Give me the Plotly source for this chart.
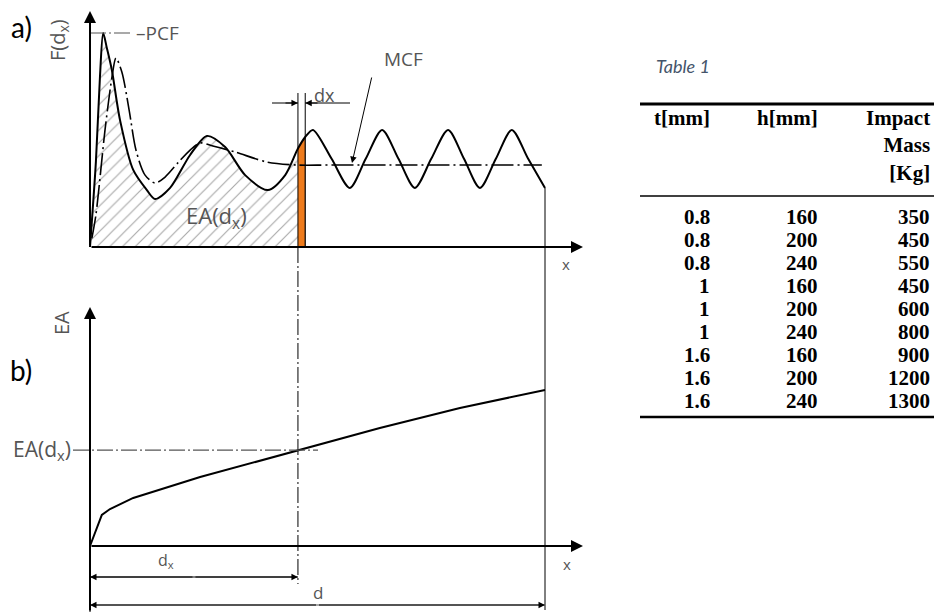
import numpy as np
import plotly.graph_objects as go

# ---------------- data ----------------
# a) crushing force record F(x)
disp = [0, 1.3, 2.2, 2.9, 3.7, 4.8, 6.6, 9.5, 12.5, 14.3,
        17.6, 22.0, 25.7, 29.7, 34.1, 39.1, 42.9, 45.7, 47.3, 49.0,
        53.1, 57.1, 60.6, 64.2, 67.8, 71.4, 75.0, 78.7, 82.2, 85.7,
        89.2, 92.7, 96.3, 100]
force = [0, 40, 80, 100, 93, 82.7, 59.3, 36.0, 26.6, 22.4,
         27.6, 43.0, 51.9, 46.7, 33.6, 26.6, 33.6, 46.0, 51.4, 54.7,
         41.2, 27.6, 41.2, 54.7, 41.2, 27.6, 41.2, 54.7, 41.2, 27.6,
         41.2, 54.7, 41.2, 27.6]

# running mean crushing force (MCF)
disp_mcf = [0.4, 1.3, 3.3, 4.8, 5.7, 7.0, 8.6, 10.1, 12.1, 14.3,
            16.5, 19.3, 22.0, 24.2, 27.0, 31.9, 38.9, 45.5, 52.7, 99.3]
mcf = [4, 15.0, 54.7, 79.0, 88.3, 81.8, 64.0, 45.3, 33.6, 29.9,
       32.7, 39.3, 45.3, 48.6, 47.2, 44.4, 39.7, 38.3, 38.3, 38.3]

# b) absorbed energy EA(x)
disp_ea = [0, 2.6, 4.4, 9.5, 24.2, 45.7, 63.7, 81.3, 100]
energy = [0, 19.9, 23.7, 30.8, 44.2, 61.5, 75.6, 88.5, 100]

# current displacement d_x and the increment dx
d_x = 45.7
d_x_end = 47.3
d_total = 100
pcf = max(force)

# Table 1
tbl_header = ["t[mm]", "h[mm]", "Impact<br>Mass<br>[Kg]"]
thickness = ["0.8", "0.8", "0.8", "1", "1", "1", "1.6", "1.6", "1.6"]
height = ["160", "200", "240", "160", "200", "240", "160", "200", "240"]
mass = ["350", "450", "550", "450", "600", "800", "900", "1200", "1300"]

# ---------------- layout geometry (pixels) ----------------
W, H = 934, 613
X0, SX = 90, 4.55          # x origin and px per displacement unit
YA0, SF = 247, 2.14        # panel a baseline and px per force unit
YB0, SE = 546, 1.56        # panel b baseline and px per energy unit


def to_x(px):
    return (px - X0) / SX


def to_f(py):
    return (YA0 - py) / SF


def to_e(py):
    return (YB0 - py) / SE


INK = "black"
GREY = "#555555"
LBL_FONT = "Open Sans"
CENTER = "16px,3px,2px,3px"
MCF_DASH = "22px,4px,2px,4px"

fig = go.Figure()

# hatched area EA(d_x) under the force curve
hx = [x for x in disp if x <= d_x]
hy = [f for x, f in zip(disp, force) if x <= d_x]
fig.add_trace(go.Scatter(
    x=hx, y=hy, mode="lines", fill="tozeroy",
    line=dict(width=0, shape="spline", smoothing=0.8),
    fillcolor="white",
    fillpattern=dict(shape="/", fgcolor="#555555", bgcolor="white",
                     size=9, solidity=0.13),
    hoverinfo="skip"))

# orange strip dEA over dx
sx = [x for x in disp if d_x <= x <= d_x_end]
sy = [f for x, f in zip(disp, force) if d_x <= x <= d_x_end]
fig.add_trace(go.Scatter(
    x=sx, y=sy, mode="lines", fill="tozeroy", fillcolor="#EE7B1C",
    line=dict(width=0), hoverinfo="skip"))

# MCF curve
fig.add_trace(go.Scatter(
    x=disp_mcf, y=mcf, mode="lines",
    line=dict(color=INK, width=1.6, dash=MCF_DASH, shape="spline", smoothing=0.8),
    hoverinfo="skip"))

# force curve
fig.add_trace(go.Scatter(
    x=disp, y=force, mode="lines",
    line=dict(color=INK, width=2, shape="spline", smoothing=0.8),
    hoverinfo="skip"))

# energy curve
fig.add_trace(go.Scatter(
    x=disp_ea, y=energy, mode="lines", yaxis="y2",
    line=dict(color=INK, width=2), hoverinfo="skip"))

shapes = []
annotations = []

f_dx_end = float(np.interp(d_x_end, disp, force))
f_end = force[-1]
ea_dx = float(np.interp(d_x, disp_ea, energy))


def vline(x, y0, y1, yref="y", width=1, dash=None, color=INK):
    shapes.append(dict(type="line", xref="x", yref=yref, x0=x, x1=x, y0=y0, y1=y1,
                       line=dict(color=color, width=width, dash=dash)))


def hline(y, x0, x1, yref="y", width=1, dash=None, color=INK):
    shapes.append(dict(type="line", xref="x", yref=yref, x0=x0, x1=x1, y0=y, y1=y,
                       line=dict(color=color, width=width, dash=dash)))


def arrow(x, y, ax, ay, yref="y", width=1, size=1.0, head=2):
    annotations.append(dict(x=x, y=y, ax=ax, ay=ay, xref="x", yref=yref,
                            axref="x", ayref=yref, text="", showarrow=True,
                            arrowhead=head, arrowsize=size, arrowwidth=width,
                            arrowcolor=INK, standoff=0, startstandoff=0))


def label(x, y, text, yref="y", size=17, color=GREY, angle=0, anchor="center",
          family=LBL_FONT):
    annotations.append(dict(x=x, y=y, xref="x", yref=yref, text=text, showarrow=False,
                            font=dict(size=size, color=color, family=family),
                            textangle=angle, xanchor=anchor, yanchor="middle"))


# strip borders and dx dimension
vline(d_x, 0, to_f(93))
vline(d_x_end, f_dx_end, to_f(93))
vline(d_x_end, 0, f_dx_end, width=1.2)
hline(to_f(103), to_x(272), d_x, width=1)
hline(to_f(103), d_x_end, to_x(350), width=1)
arrow(d_x, to_f(103), to_x(284), to_f(103), size=1.3)
arrow(d_x_end, to_f(103), to_x(319), to_f(103), size=1.3)
label(to_x(324), to_f(95), "dx", size=18)

# PCF reference line
hline(pcf, 0, to_x(133), width=1.2, dash=CENTER, color=GREY)
label(to_x(134), pcf, "–PCF", size=19, anchor="left")

# MCF leader
arrow(to_x(352), to_f(163), to_x(372), to_f(76), size=1.3)
label(to_x(403), to_f(59), "MCF", size=19)

# end of stroke d
vline(d_total, f_end, to_f(610))

# d_x projection line to panel b
vline(d_x, 0, to_f(584), dash=CENTER)

# axes of panel a
arrow(0, to_f(11), 0, 0, width=2, size=1.2)
arrow(to_x(583), 0, 0, 0, width=2, size=1.2)
label(to_x(566), to_f(264), "x", size=15)
label(to_x(58), to_f(40), "F(d<sub>x</sub>)", size=20, angle=-90)
label(to_x(216), to_f(217), "EA(d<sub>x</sub>)", size=22)
annotations.append(dict(x=to_x(21), y=to_f(27), xref="x", yref="y", text="a)",
                        showarrow=False, font=dict(size=28, color=INK, family="Lato")))

# axes of panel b
arrow(0, to_e(307), 0, to_e(612), yref="y2", width=2, size=1.2)
vline(0, to_e(612), to_e(546), yref="y2", width=1)
arrow(to_x(583), 0, 0, 0, yref="y2", width=2, size=1.2)
label(to_x(567), to_e(564), "x", yref="y2", size=15)
label(to_x(61), to_e(323), "EA", yref="y2", size=20, angle=-90)
annotations.append(dict(x=to_x(21), y=to_e(370), xref="x", yref="y2", text="b)",
                        showarrow=False, font=dict(size=28, color=INK, family="Lato")))

# EA(d_x) level
hline(ea_dx, to_x(73), to_x(318), yref="y2", width=1.2, dash=CENTER, color=GREY)
label(to_x(73), ea_dx, "EA(d<sub>x</sub>)", yref="y2", size=21, anchor="right")

# d_x and d dimensions
y_dx = to_e(577)
y_d = to_e(605)
hline(y_dx, 0, d_x, yref="y2", width=1)
arrow(0, y_dx, d_x / 2, y_dx, yref="y2", size=1.3)
arrow(d_x, y_dx, d_x / 2, y_dx, yref="y2", size=1.3)
label(to_x(166), to_e(560), "d<sub>x</sub>", yref="y2", size=16)
hline(y_d, 0, d_total, yref="y2", width=1, color=GREY)
arrow(0, y_d, d_total / 2, y_d, yref="y2", size=1.3)
arrow(d_total, y_d, d_total / 2, y_d, yref="y2", size=1.3)
label(to_x(318), to_e(592), "d", yref="y2", size=17)


# ---------------- Table 1 ----------------
def px(xp):
    return xp / W


def py(yp):
    return 1 - yp / H


TBL_FONT = dict(family="Liberation Serif", size=21, color="black")
col_right = [712, 820, 932]
annotations.append(dict(x=px(654), y=py(66), xref="paper", yref="paper",
                        text="<i>Table 1</i>", showarrow=False,
                        xanchor="left", yanchor="middle",
                        font=dict(family="Lato", size=18, color="#44546A")))
for c, htxt in enumerate(tbl_header):
    annotations.append(dict(x=px(col_right[c]), y=py(104), xref="paper", yref="paper",
                            text="<b>" + htxt + "</b>", showarrow=False,
                            xanchor="right", yanchor="top", align="right",
                            font=TBL_FONT))
row0, row_step = 217, 23
for r, vals in enumerate(zip(thickness, height, mass)):
    for c, v in enumerate(vals):
        annotations.append(dict(x=px(col_right[c]), y=py(row0 + r * row_step),
                                xref="paper", yref="paper", text="<b>" + v + "</b>",
                                showarrow=False, xanchor="right", yanchor="middle",
                                font=TBL_FONT))
for yp, lw in [(104, 3), (196, 1.5), (row0 + 8 * row_step + 16, 2.5)]:
    shapes.append(dict(type="line", xref="paper", yref="paper", x0=px(640), x1=1,
                       y0=py(yp), y1=py(yp), line=dict(color="black", width=lw)))

fig.update_layout(
    width=W, height=H, margin=dict(l=0, r=0, t=0, b=0),
    paper_bgcolor="white", plot_bgcolor="white", showlegend=False,
    xaxis=dict(range=[to_x(0), to_x(W)], visible=False, fixedrange=True),
    yaxis=dict(range=[to_f(H), to_f(0)], visible=False, fixedrange=True),
    yaxis2=dict(range=[to_e(H), to_e(0)], visible=False, fixedrange=True,
                overlaying="y"),
    shapes=shapes, annotations=annotations,
)

fig.write_html("out.html")
